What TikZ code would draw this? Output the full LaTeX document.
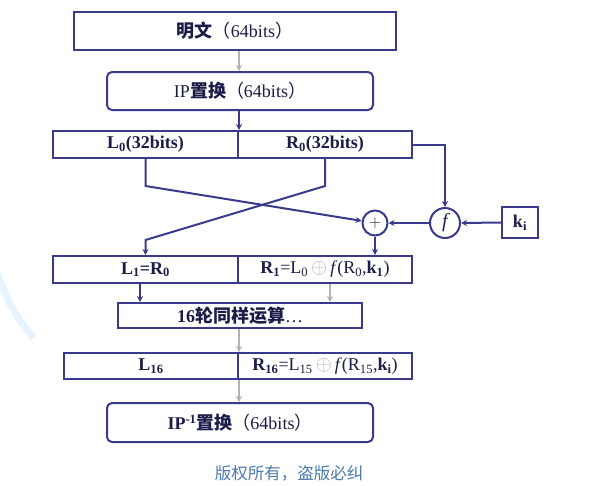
\documentclass[tikz,border=0pt]{standalone}
\usepackage{fontspec}
\setmainfont{Liberation Serif}
\newfontfamily\cjk{Noto Sans CJK SC}
\usetikzlibrary{arrows.meta}
\definecolor{lineblue}{RGB}{58,58,140}
\definecolor{txt}{RGB}{28,28,72}
\definecolor{garr}{RGB}{178,178,178}
\definecolor{foot}{RGB}{74,122,176}
\definecolor{swoosh}{RGB}{230,243,255}
\begin{document}
\begin{tikzpicture}[x=1pt,y=-1pt,
  box/.style={draw=lineblue,line width=2pt,inner sep=0pt,text=txt,font=\fontsize{18}{20}\selectfont},
  rbox/.style={box,rounded corners=5pt},
  circ/.style={draw=lineblue,line width=2pt,circle,inner sep=0pt,text=txt},
  barrow/.style={draw=lineblue,line width=2pt,-{Stealth[length=6pt,width=6pt]}},
  garrow/.style={draw=garr,line width=2pt,-{Stealth[length=6pt,width=6pt]}}]
\useasboundingbox (0,0) rectangle (600,485);
\draw[swoosh,line width=7pt] (-4,270) .. controls (6,298) and (18,322) .. (34,338);
\newcommand{\cplus}{\textcolor{garr}{\fontsize{21}{21}\selectfont$\oplus$}}
% boxes
\node[box,minimum width=322pt,minimum height=38pt] (plain) at (235,31)
  {{\cjk\bfseries 明文}{\cjk （}64bits{\cjk ）}};
\node[rbox,minimum width=266pt,minimum height=38pt] (ip) at (240,91)
  {IP{\cjk\bfseries 置换}{\cjk （}64bits{\cjk ）}};
\node[box,minimum width=185pt,minimum height=27pt] (L0) at (145.5,144.5)
  {\textbf{L\textsubscript{0}(32bits)}};
\node[box,minimum width=174pt,minimum height=27pt] (R0) at (325,144.5)
  {\textbf{R\textsubscript{0}(32bits)}};
\node[circ,minimum size=25pt,font=\fontsize{16}{16}\selectfont] (plus) at (375,223) {$+$};
\node[circ,minimum size=30pt,font=\fontsize{20}{20}\selectfont\itshape] (f) at (445,223) {f};
\node[box,minimum width=36pt,minimum height=31pt] (k) at (520,222.5)
  {\textbf{k\textsubscript{i}}};
\node[box,minimum width=185pt,minimum height=27pt] (L1) at (145.5,269.5)
  {\textbf{L\textsubscript{1}=R\textsubscript{0}}};
\node[box,minimum width=174pt,minimum height=27pt] (R1) at (325,269.5)
  {\textbf{R\textsubscript{1}}=L\textsubscript{0}\,\cplus\,\textit{f}(R\textsubscript{0},\textbf{k\textsubscript{1}})};
\node[box,minimum width=244pt,minimum height=25pt] (round) at (240,315.5)
  {\textbf{16}{\cjk\bfseries 轮同样运算}…};
\node[box,minimum width=174pt,minimum height=26pt] (L16) at (151,366)
  {\textbf{L\textsubscript{16}}};
\node[box,minimum width=174pt,minimum height=26pt] (R16) at (325,366)
  {\textbf{R\textsubscript{16}}=L\textsubscript{15}\,\cplus\,\textit{f}(R\textsubscript{15},\textbf{k\textsubscript{i}})};
\node[rbox,minimum width=266pt,minimum height=39pt] (ipinv) at (240,422.5)
  {\textbf{IP\textsuperscript{-1}}{\cjk\bfseries 置换}{\cjk （}64bits{\cjk ）}};
\node[text=foot,font=\cjk\fontsize{16.5}{18}\selectfont] (footer) at (289,473) {版权所有，盗版必纠};
% helper coordinates
\coordinate (a1) at (145.5,186);
\coordinate (a2) at (325,186);
\coordinate (a3) at (145.5,240);
% connectors
\draw[garrow] (plain.south -| L0.east) -- (ip.north -| L0.east);
\draw[barrow] (ip.south -| L0.east) -- (L0.north east);
\draw[barrow] (L0.south) -- (a1) -- (plus);
\draw[barrow] (R0.south) -- (a2) -- (a3) -- (L1.north);
\draw[barrow] (R0.east) -| (f.north);
\draw[barrow] (k.west) -- (f.east);
\draw[barrow] (f.west) -- (plus.east);
\draw[barrow] (plus.south) -- (plus.south |- R1.north);
\draw[barrow] ([xshift=-5.5pt]L1.south) -- ([xshift=-5.5pt]L1.south |- round.north);
\draw[garrow] ([xshift=5pt]R1.south) -- ([xshift=5pt]R1.south |- round.north);
\draw[garrow] (round.south -| L16.east) -- (L16.north east);
\draw[garrow] (L16.south east) -- (ipinv.north -| L16.east);
\end{tikzpicture}
\end{document}
